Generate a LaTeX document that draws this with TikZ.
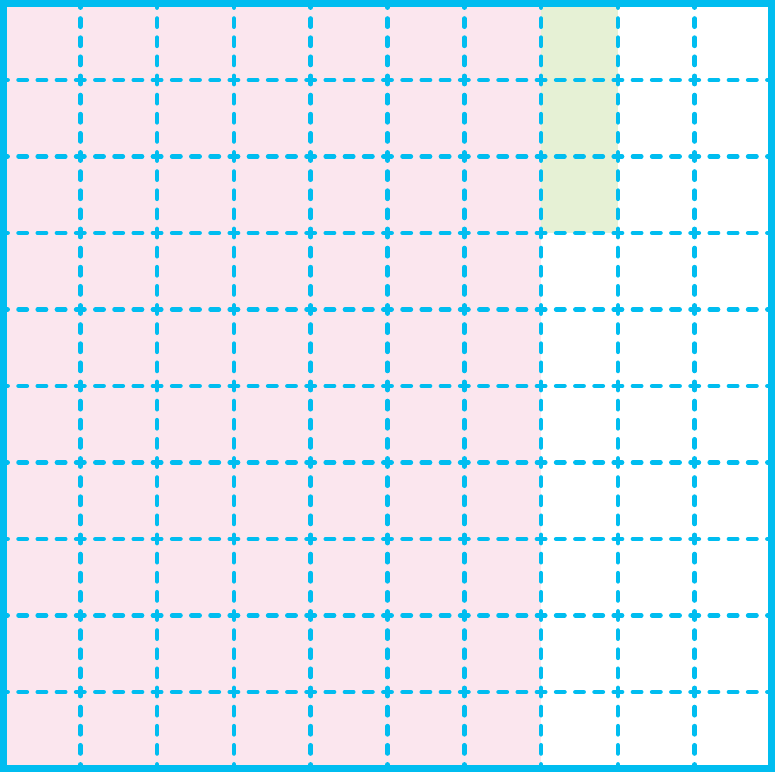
\documentclass[tikz,border=0pt]{standalone}
\usepackage{tikz}
\definecolor{gridcyan}{RGB}{0,189,240}
\definecolor{shadepink}{RGB}{251,230,238}
\definecolor{shadegreen}{RGB}{230,241,213}

\begin{document}
\begin{tikzpicture}[
    frame/.style={draw=gridcyan, line width=7bp},
    hline/.style={draw=gridcyan, line width=4.5bp, line cap=round,
      dash pattern=on 8.4bp off 10.8bp, dash phase=4.2bp},
    vline/.style={draw=gridcyan, line width=4.5bp, line cap=round,
      dash pattern=on 8.3bp off 10.825bp, dash phase=4.15bp},
  ]

  \useasboundingbox (0,0) rectangle (775bp,772bp);

  \begin{scope}[shift={(3.5bp,3.5bp)}, x=76.8bp, y=76.5bp]
    %% Shaded cells
    \fill[shadepink] (0,0) rectangle (7,10);
    \fill[shadegreen] (7,7) rectangle (8,10);

    %% Dashed grid lines
    \foreach \k in {1,...,9} {
      \draw[hline] (0,\k) -- (10,\k);
      \draw[vline] (\k,0) -- (\k,10);
    }

    %% Outer frame
    \draw[frame] (0,0) rectangle (10,10);
  \end{scope}

\end{tikzpicture}
\end{document}
